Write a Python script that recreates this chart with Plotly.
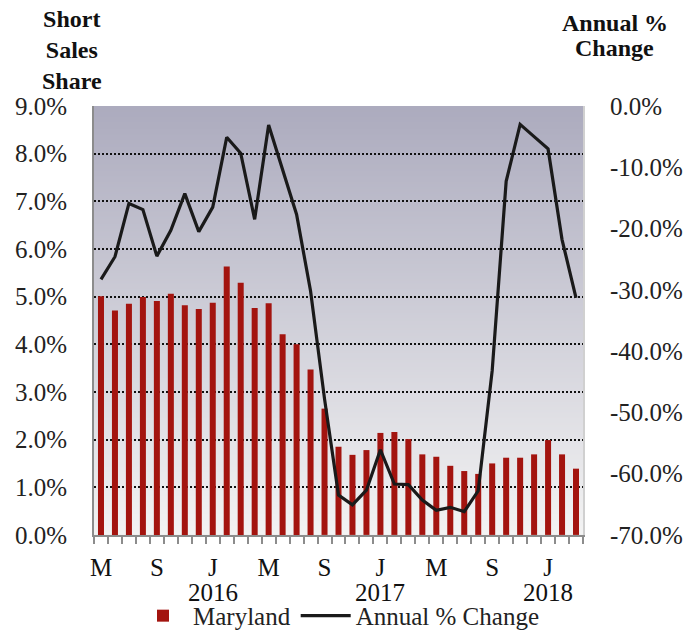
import base64, struct, zlib
import plotly.graph_objects as go

# ---------------- data ----------------
months = ["May15","Jun15","Jul15","Aug15","Sep15","Oct15","Nov15","Dec15",
          "Jan16","Feb16","Mar16","Apr16","May16","Jun16","Jul16","Aug16",
          "Sep16","Oct16","Nov16","Dec16","Jan17","Feb17","Mar17","Apr17",
          "May17","Jun17","Jul17","Aug17","Sep17","Oct17","Nov17","Dec17",
          "Jan18","Feb18","Mar18"]
short_share = [5.01, 4.71, 4.85, 4.99, 4.91, 5.06, 4.82, 4.74, 4.87, 5.63,
               5.29, 4.76, 4.86, 4.21, 4.00, 3.47, 2.65, 1.85, 1.68, 1.78,
               2.14, 2.16, 2.01, 1.69, 1.64, 1.45, 1.34, 1.28, 1.50, 1.62,
               1.62, 1.69, 1.99, 1.69, 1.39]
annual_change = [-28.3, -24.6, -15.9, -16.9, -24.5, -20.3, -14.3, -20.5, -16.5, -5.1,
                 -7.7, -18.5, -3.1, -10.3, -17.7, -30.2, -47.8, -63.5, -65.1, -62.7,
                 -56.1, -61.7, -61.8, -64.3, -66.0, -65.5, -66.2, -62.8, -43.2, -12.3,
                 -3.0, -5.0, -7.0, -21.8, -31.3]
month_tick_idx = [0, 4, 8, 12, 16, 20, 24, 28, 32]
month_tick_text = ["M", "S", "J", "M", "S", "J", "M", "S", "J"]
year_idx = [8, 20, 32]
year_text = ["2016", "2017", "2018"]
left_ticks = [0, 1, 2, 3, 4, 5, 6, 7, 8, 9]
left_text = [f"{v:.1f}%" for v in left_ticks]
right_ticks = [0, -10, -20, -30, -40, -50, -60, -70]
right_text = [f"{v:.1f}%" for v in right_ticks]

FONT = "Liberation Serif"
FS = 25
x = list(range(len(months)))

# ------------- gradient background (tiny PNG) -------------
def gradient_png(top, bottom, h=256):
    raw = b""
    for i in range(h):
        t = i / (h - 1)
        c = [round(top[k] + (bottom[k] - top[k]) * t) for k in range(3)]
        raw += b"\x00" + bytes(c)
    def chunk(tag, data):
        return (struct.pack(">I", len(data)) + tag + data +
                struct.pack(">I", zlib.crc32(tag + data) & 0xffffffff))
    png = (b"\x89PNG\r\n\x1a\n" +
           chunk(b"IHDR", struct.pack(">IIBBBBB", 1, h, 8, 2, 0, 0, 0)) +
           chunk(b"IDAT", zlib.compress(raw)) + chunk(b"IEND", b""))
    return "data:image/png;base64," + base64.b64encode(png).decode()

bg = gradient_png((172, 171, 190), (243, 243, 243))

fig = go.Figure()
fig.add_trace(go.Bar(x=x, y=short_share, name="Maryland",
                     marker=dict(color="#a3140f", line=dict(width=0)),
                     width=0.43))
fig.add_trace(go.Scatter(x=x, y=annual_change, name="Annual % Change",
                         yaxis="y2", mode="lines",
                         line=dict(color="#1a1a1a", width=3.2)))

annotations = [dict(x=i, y=0, xref="x", yref="paper", text=t, showarrow=False,
                    yanchor="middle", yshift=-58, borderpad=0,
                    font=dict(family=FONT, size=FS, color="#111"))
               for i, t in zip(year_idx, year_text)]
annotations.append(dict(x=-0.045, y=1, xref="paper", yref="paper",
                        text="<b>Short<br>Sales<br>Share</b>", showarrow=False,
                        xanchor="center", yanchor="middle", yshift=56,
                        font=dict(family=FONT, size=24, color="#111")))
annotations.append(dict(x=1.0654, y=1, xref="paper", yref="paper",
                        text="<b>Annual %</b>", showarrow=False,
                        xanchor="center", yanchor="middle", yshift=83,
                        font=dict(family=FONT, size=24, color="#111")))
annotations.append(dict(x=1.0654, y=1, xref="paper", yref="paper",
                        text="<b>Change</b>", showarrow=False,
                        xanchor="center", yanchor="middle", yshift=58,
                        font=dict(family=FONT, size=24, color="#111")))

fig.update_layout(
    width=696, height=633,
    margin=dict(l=94, r=113, t=106, b=96),
    paper_bgcolor="white", plot_bgcolor="#d0d0d8",
    font=dict(family=FONT, size=FS, color="#222"),
    showlegend=True,
    legend=dict(orientation="h", x=0.5, xanchor="center", y=0.027, yanchor="middle",
                yref="container", font=dict(family=FONT, size=FS, color="#222"),
                itemwidth=50, traceorder="normal", bgcolor="rgba(0,0,0,0)"),
    images=[dict(source=bg, xref="paper", yref="paper", x=0, y=1, sizex=1, sizey=1,
                 sizing="stretch", layer="below", xanchor="left", yanchor="top")],
    annotations=annotations,
    xaxis=dict(range=[-0.5, len(months) - 0.5], tickmode="array",
               tickvals=month_tick_idx, ticktext=month_tick_text,
               ticks="", showgrid=False, zeroline=False,
               showline=True, linecolor="#8c8c8c", linewidth=2,
               ticklabelstandoff=9,
               tickfont=dict(family=FONT, size=FS, color="#111"),
               minor=dict(ticks="outside", tick0=-0.5, dtick=1, ticklen=7,
                          tickcolor="#8c8c8c", tickwidth=1.5, showgrid=False)),
    yaxis=dict(range=[0, 9], tickmode="array", tickvals=left_ticks, ticktext=left_text,
               showgrid=True, gridcolor="#111", gridwidth=2, griddash="2px,2px",
               zeroline=False, showline=True, linecolor="#8c8c8c", linewidth=2,
               ticks="", ticklabelstandoff=20,
               tickfont=dict(family=FONT, size=FS, color="#222")),
    yaxis2=dict(range=[-70, 0], overlaying="y", side="right", tickmode="array",
                tickvals=right_ticks, ticktext=right_text, showgrid=False,
                zeroline=False, showline=True, linecolor="#d0d0d0", linewidth=2,
                ticks="", ticklabelstandoff=20,
                tickfont=dict(family=FONT, size=FS, color="#222")),
)

fig.write_html("out.html", config={"displayModeBar": False},
               post_script="document.body.style.margin='0px';")
